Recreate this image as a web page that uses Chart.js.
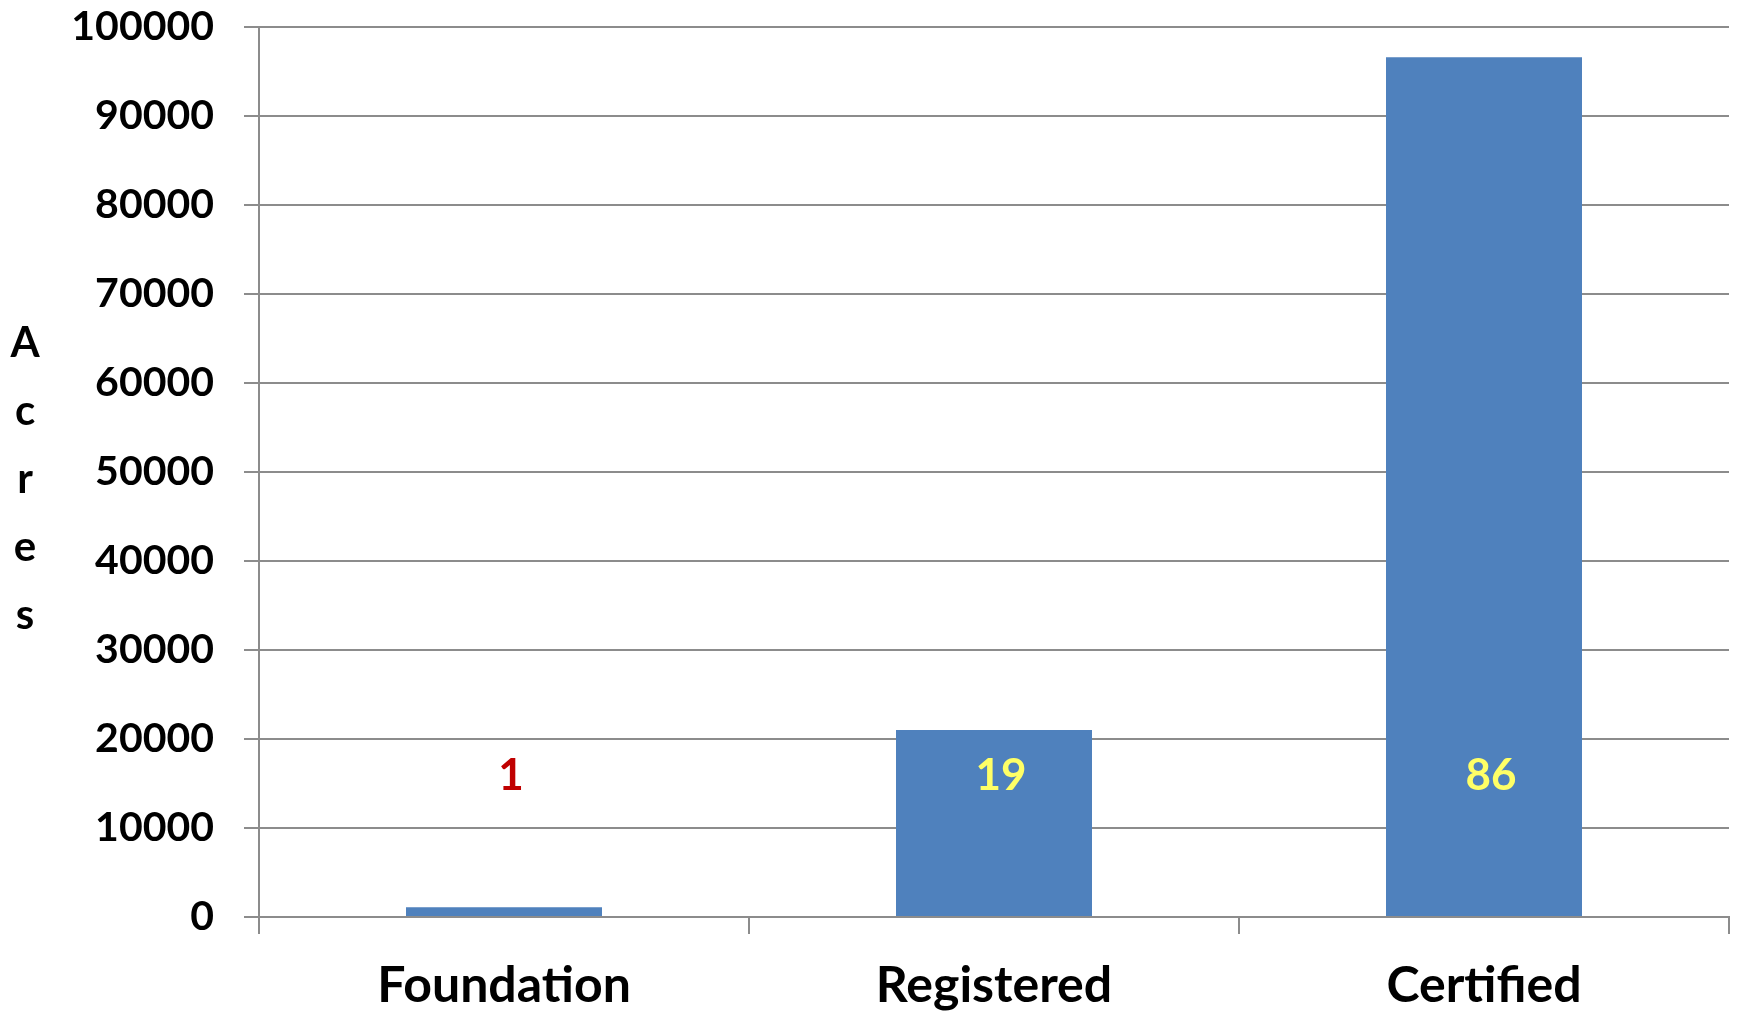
<!DOCTYPE html>
<html>
<head>
<meta charset="utf-8">
<script src="https://cdn.jsdelivr.net/npm/chart.js@4"></script>
<style>
  html, body { margin: 0; padding: 0; background: #fff; }
  #wrap { width: 1740px; height: 1011px; }
</style>
</head>
<body>
<div id="wrap"><canvas id="myChart" width="1740" height="1011"></canvas></div>
<script>
let categories = ["Foundation", "Registered", "Certified"];
let acres = [1100, 21000, 96600];
let counts = ["1", "19", "86"];
let countColors = ['#C00000', '#FFFF66', '#FFFF66'];
let yTicks = [0, 10000, 20000, 30000, 40000, 50000, 60000, 70000, 80000, 90000, 100000];
let yTitle = ["A", "c", "r", "e", "s"];
let countLevel = 15900; // height (in axis units) where the count labels sit

let fontFamily = 'Lato, "Open Sans", sans-serif';

// stacked y title + count labels
let extras = {
    id: 'extras',
    afterDatasetsDraw(chart) {
        let c = chart.ctx;
        let y = chart.scales.y;
        let x = chart.scales.x;
        c.save();
        c.textAlign = 'center';
        c.textBaseline = 'middle';
        c.font = 'bold 42px ' + fontFamily;
        c.fillStyle = '#000';
        yTitle.forEach((ch, i) => {
            c.fillText(ch, 25, 343 + i * 68);
        });
        c.font = 'bold 44px ' + fontFamily;
        counts.forEach((t, i) => {
            c.fillStyle = countColors[i];
            c.fillText(t, x.getPixelForValue(i) + 7, y.getPixelForValue(countLevel));
        });
        c.restore();
    }
};

let ctx = document.getElementById('myChart').getContext('2d');

let myChart = new Chart(ctx, {
    type: 'bar',
    data: {
        labels: categories,
        datasets: [{
            label: 'Acres',
            data: acres,
            backgroundColor: '#4F81BD',
            borderWidth: 0,
            categoryPercentage: 1,
            barPercentage: 0.4
        }]
    },
    options: {
        responsive: false,
        animation: false,
        layout: { padding: { top: 0, right: 11, left: 0, bottom: 0 } },
        plugins: {
            legend: { display: false },
            tooltip: { enabled: false }
        },
        scales: {
            x: {
                grid: {
                    offset: true,
                    drawOnChartArea: false,
                    color: '#8c8c8c',
                    lineWidth: 2,
                    tickLength: 17
                },
                border: { color: '#8c8c8c', width: 2 },
                ticks: {
                    color: '#000',
                    padding: 22,
                    font: { family: fontFamily, size: 50, weight: 'bold' }
                },
                afterFit(scale) { scale.height = 94; }
            },
            y: {
                min: 0,
                max: 100000,
                afterBuildTicks(scale) {
                    scale.ticks = yTicks.map(v => ({ value: v }));
                },
                grid: {
                    color: '#8c8c8c',
                    lineWidth: 2,
                    tickLength: 15
                },
                border: { color: '#8c8c8c', width: 2 },
                ticks: {
                    color: '#000',
                    padding: 30,
                    font: { family: fontFamily, size: 41, weight: 'bold' },
                    callback: v => String(v)
                },
                afterFit(scale) {
                    scale.width = 259;
                    scale.paddingTop = 27;
                }
            }
        }
    },
    plugins: [extras]
});
</script>
</body>
</html>
